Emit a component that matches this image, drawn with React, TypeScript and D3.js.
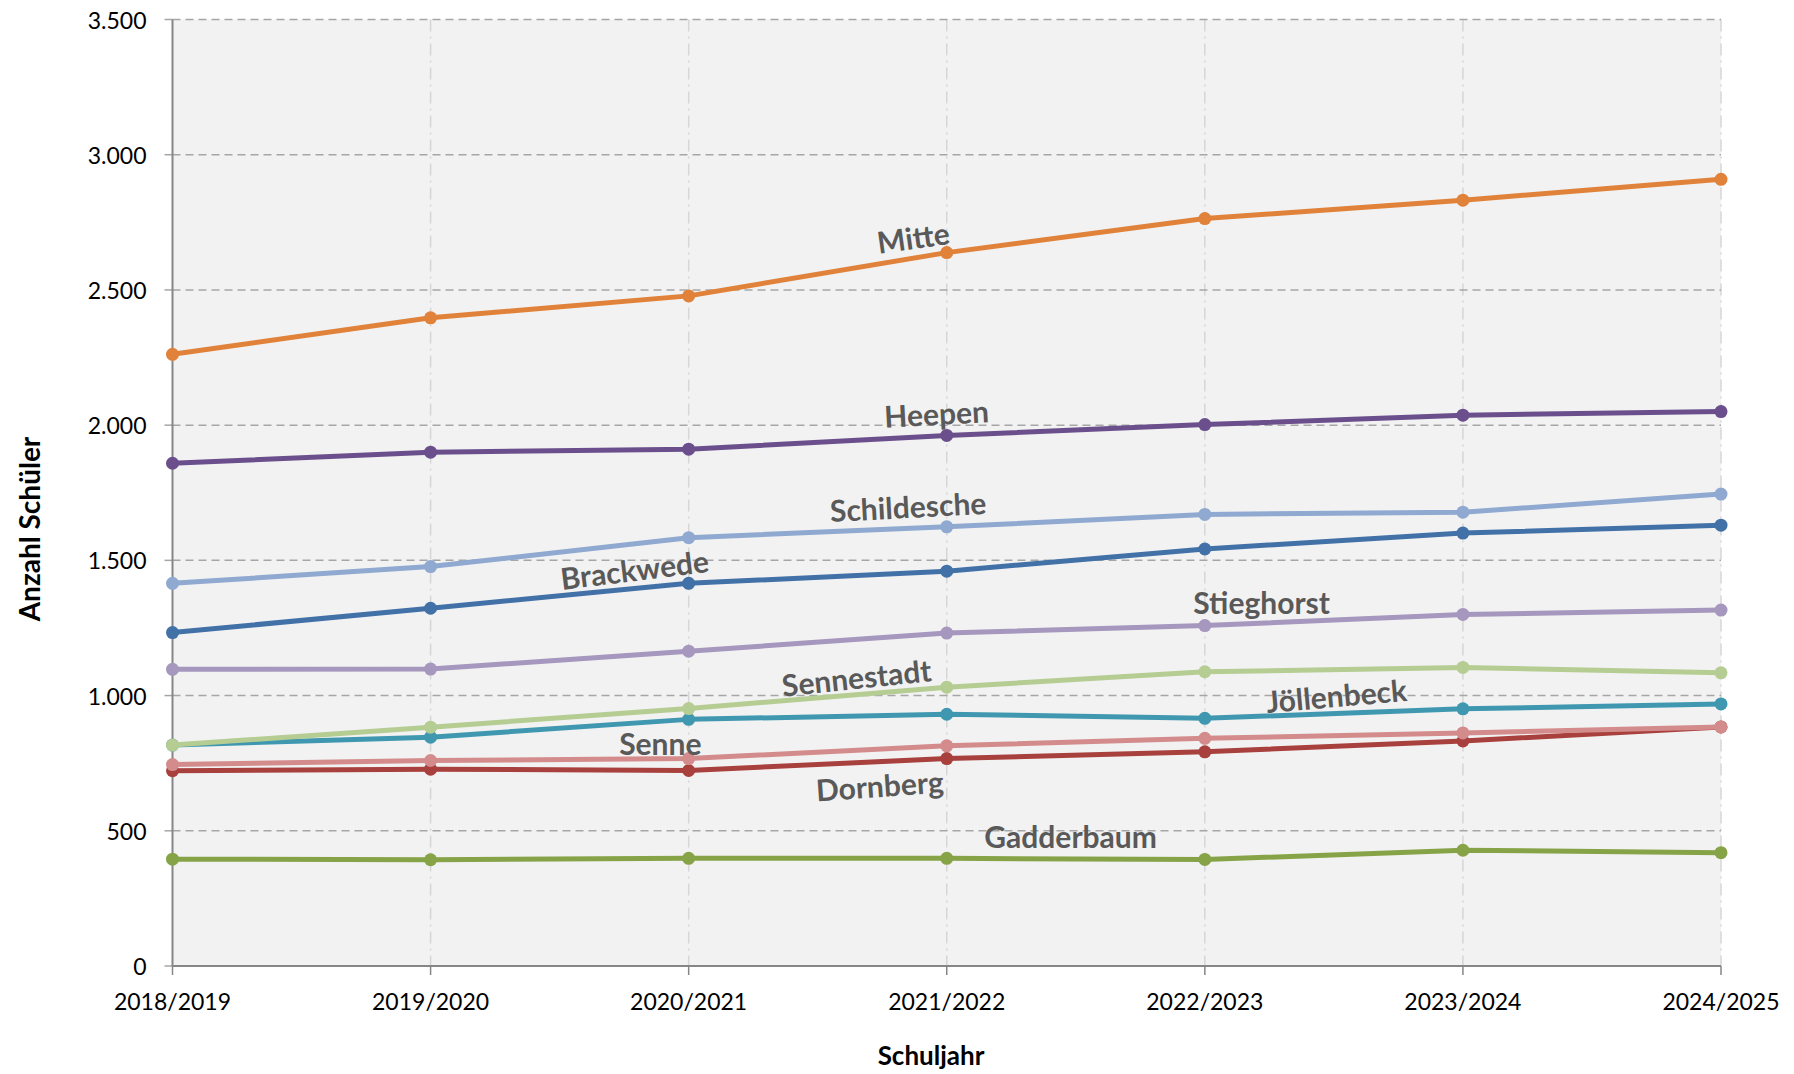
import React from "react";
import * as d3 from "d3";

// Schuljahre (x categories)
const years = [
  "2018/2019",
  "2019/2020",
  "2020/2021",
  "2021/2022",
  "2022/2023",
  "2023/2024",
  "2024/2025",
];

// Stadtbezirke, in drawing order
const districts = [
  "Brackwede",
  "Dornberg",
  "Gadderbaum",
  "Heepen",
  "Jöllenbeck",
  "Mitte",
  "Schildesche",
  "Senne",
  "Sennestadt",
  "Stieghorst",
];

const brackwede = [1233, 1323, 1415, 1460, 1542, 1601, 1630];
const dornberg = [722, 728, 723, 767, 792, 832, 884];
const gadderbaum = [395, 393, 398, 398, 394, 428, 419];
const heepen = [1859, 1900, 1911, 1962, 2002, 2037, 2050];
const joellenbeck = [817, 846, 912, 931, 916, 951, 969];
const mitte = [2262, 2397, 2478, 2638, 2764, 2832, 2909];
const schildesche = [1415, 1477, 1584, 1624, 1670, 1678, 1745];
const senne = [745, 760, 767, 814, 842, 862, 884];
const sennestadt = [817, 883, 952, 1031, 1088, 1104, 1084];
const stieghorst = [1097, 1098, 1164, 1231, 1259, 1300, 1316];

const seriesValues = [
  brackwede,
  dornberg,
  gadderbaum,
  heepen,
  joellenbeck,
  mitte,
  schildesche,
  senne,
  sennestadt,
  stieghorst,
];

const colors = [
  "#4271a8",
  "#a8403d",
  "#86a447",
  "#6b4f8c",
  "#3f98b0",
  "#e0823a",
  "#8fa9d1",
  "#d38c8b",
  "#b5cd92",
  "#a597bd",
];

// label anchor: fractional category index, value, rotation
const labelIndex = [1.79, 2.74, 3.48, 2.96, 4.51, 2.87, 2.85, 1.89, 2.65, 4.22];
const labelValue = [1468, 669, 481, 2045, 1002, 2696, 1701, 825, 1069, 1346];
const labelAngle = [-7, -4, 0, -3, -5, -8, -3, 0, -6, 0];

const yTicks = [0, 500, 1000, 1500, 2000, 2500, 3000, 3500];

const W = 1794;
const H = 1074;
const left = 172.5;
const right = 1721;
const top = 19.5;
const bottom = 966;

const fmt = (v: number) => d3.format(",")(v).replace(/,/g, ".");

export default function App() {
  const x = d3.scaleLinear().domain([0, years.length - 1]).range([left, right]);
  const y = d3.scaleLinear().domain([0, 3500]).range([bottom, top]);

  const line = d3
    .line<number>()
    .x((_, i) => x(i))
    .y((d) => y(d));

  const font = "Lato, 'Open Sans', sans-serif";

  return (
    <svg
      width={W}
      height={H}
      style={{ position: "absolute", left: 0, top: 0, background: "#fff" }}
      fontFamily={font}
    >
      <rect x={left} y={top} width={right - left} height={bottom - top} fill="#f2f2f2" />

      {/* vertical grid */}
      {years.map((_, i) =>
        i === 0 ? null : (
          <line
            key={"vg" + i}
            x1={x(i)}
            x2={x(i)}
            y1={top}
            y2={bottom}
            stroke="#d6d6d6"
            strokeWidth={1.5}
            strokeDasharray="12,5,2,5"
          />
        )
      )}

      {/* horizontal grid + y ticks */}
      {yTicks.map((t) => (
        <g key={"hg" + t}>
          {t > 0 && (
            <line
              x1={left}
              x2={right}
              y1={y(t)}
              y2={y(t)}
              stroke="#a6a6a6"
              strokeWidth={1.5}
              strokeDasharray="8,5"
            />
          )}
          <line x1={left - 8} x2={left} y1={y(t)} y2={y(t)} stroke="#a6a6a6" strokeWidth={1.5} />
          <text
            x={left - 26}
            y={y(t)}
            textAnchor="end"
            dominantBaseline="central"
            fontSize={23}
            fill="#000"
          >
            {fmt(t)}
          </text>
        </g>
      ))}

      {/* axes */}
      <line x1={left} x2={left} y1={top} y2={bottom} stroke="#868686" strokeWidth={2} />
      <line x1={left} x2={right} y1={bottom} y2={bottom} stroke="#868686" strokeWidth={2} />
      {years.map((yr, i) => (
        <g key={"xt" + i}>
          <line x1={x(i)} x2={x(i)} y1={bottom} y2={bottom + 9} stroke="#868686" strokeWidth={1.5} />
          <text
            x={x(i)}
            y={1001}
            textAnchor="middle"
            dominantBaseline="central"
            fontSize={23}
            fill="#000"
          >
            {yr}
          </text>
        </g>
      ))}

      {/* series */}
      {seriesValues.map((vals, s) => (
        <g key={districts[s]}>
          <path d={line(vals) || ""} fill="none" stroke={colors[s]} strokeWidth={5} strokeLinejoin="round" />
          {vals.map((v, i) => (
            <circle key={i} cx={x(i)} cy={y(v)} r={6.5} fill={colors[s]} />
          ))}
        </g>
      ))}

      {/* series labels */}
      {districts.map((name, s) => {
        const lx = x(labelIndex[s]);
        const ly = y(labelValue[s]);
        return (
          <text
            key={"lb" + name}
            x={lx}
            y={ly}
            textAnchor="middle"
            dominantBaseline="central"
            fontSize={30}
            fontWeight="bold"
            fill="#595959"
            transform={`rotate(${labelAngle[s]},${lx},${ly})`}
          >
            {name}
          </text>
        );
      })}

      {/* axis titles */}
      <text x={931} y={1055} textAnchor="middle" dominantBaseline="central" fontSize={26} fontWeight="bold">
        Schuljahr
      </text>
      <text
        x={29}
        y={529}
        textAnchor="middle"
        dominantBaseline="central"
        fontSize={28}
        fontWeight="bold"
        transform="rotate(-90,29,529)"
      >
        Anzahl Schüler
      </text>
    </svg>
  );
}
